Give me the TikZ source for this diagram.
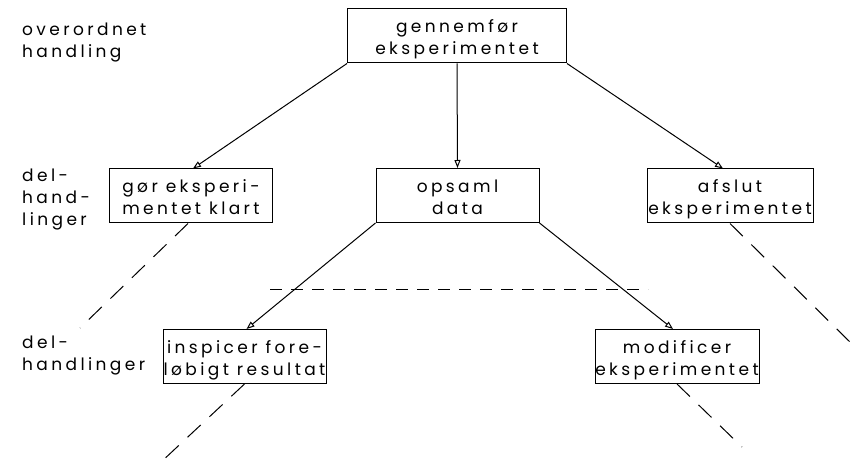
\documentclass[tikz,border=0pt]{standalone}
\usepackage{fontspec}
\setmainfont{Poppins}[LetterSpace=20]
\usetikzlibrary{arrows.meta}
\begin{document}
\begin{tikzpicture}[x=1pt,y=-1pt,
  txt/.style={font=\fontsize{17}{22}\selectfont},
  box/.style={draw, line width=1pt, align=center, inner sep=0pt,
    minimum width=#1, minimum height=54pt, text height=42pt, text depth=4pt, txt},
  lbl/.style={align=left, anchor=north west, inner sep=0pt, txt},
  arr/.style={line width=1pt, -{Triangle[open,length=8pt,width=6pt]}},
  dsh/.style={line width=1pt, dash pattern=on 18pt off 12pt},
  hdsh/.style={line width=1pt, dash pattern=on 12pt off 9pt}]
\useasboundingbox (0,0) rectangle (857,465);
% left labels
\node[lbl] (l1) at (22,22.5) {overordnet\\handling};
\node[lbl] (l2) at (22,168.5) {del-\\hand-\\linger};
\node[lbl] (l3) at (22,335.5) {del-\\handlinger};
% boxes
\node[box=219pt] (top) at (457,36) {gennemfør\\eksperimentet};
\node[box=163pt] (gor) at (191,196) {gør eksperi-\\mentet klart};
\node[box=163pt] (ops) at (457.5,195.5) {opsaml\\data};
\node[box=166pt] (afs) at (730,196) {afslut\\eksperimentet};
\node[box=163pt] (ins) at (244.5,356.5) {inspicer fore-\\løbigt resultat};
\node[box=164pt] (mod) at (677,356.5) {modificer\\eksperimentet};
% arrows
\draw[arr] (top.south west) -- ([xshift=2pt]gor.north);
\draw[arr] (top.south) -- (ops.north);
\draw[arr] (top.south east) -- ([xshift=-7pt]afs.north);
\draw[arr] (ops.south west) -- ([xshift=2pt]ins.north);
\draw[arr] (ops.south east) -- ([xshift=-4pt]mod.north);
% dashed continuations
\coordinate (d1) at (80,328);
\coordinate (d2) at (853,345);
\coordinate (d3) at (160,463);
\coordinate (d4) at (742,447);
\coordinate (h1) at (270,289);
\coordinate (h2) at (648,289);
\draw[dsh] ([xshift=-3pt]gor.south) -- (d1);
\draw[dsh] (afs.south) -- (d2);
\draw[dsh] (ins.south) -- (d3);
\draw[dsh] (mod.south) -- (d4);
\draw[hdsh] (h1) -- (h2);
\end{tikzpicture}
\end{document}
